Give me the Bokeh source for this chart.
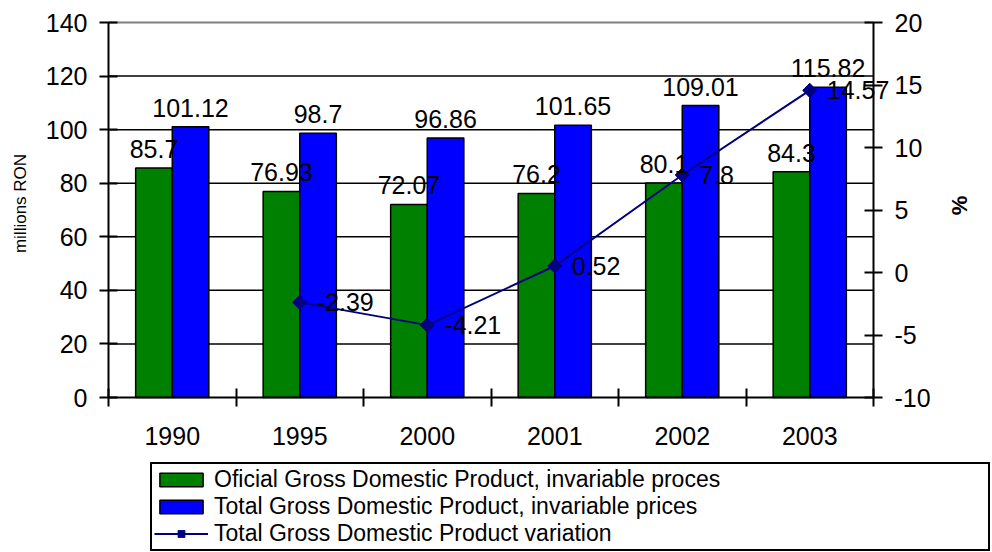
import numpy as np
from bokeh.plotting import figure
from bokeh.models import (Range1d, LinearAxis, FixedTicker, ColumnDataSource,
                          Legend, LegendItem, Label)
from bokeh.core.properties import value
from bokeh.embed import file_html
from bokeh.resources import INLINE

# ---------------- data ----------------
categories = ["1990", "1995", "2000", "2001", "2002", "2003"]
official_gdp = [85.7, 76.93, 72.07, 76.2, 80.1, 84.3]
total_gdp = [101.12, 98.7, 96.86, 101.65, 109.01, 115.82]
variation_years = ["1995", "2000", "2001", "2002", "2003"]
variation_pct = [-2.39, -4.21, 0.52, 7.8, 14.57]
left_ticks = [0, 20, 40, 60, 80, 100, 120, 140]
right_ticks = [-10, -5, 0, 5, 10, 15, 20]
left_title = "millions RON"
right_title = "%"
legend_labels = ["Oficial Gross Domestic Product, invariable proces",
                 "Total Gross Domestic Product, invariable prices",
                 "Total Gross Domestic Product variation"]

# ---------------- layout / styling ----------------
FONT = "Liberation Sans"
BAR_W = 0.287
OFF = 0.1435
GREEN = "#008000"
BLUE = "#0000FF"
NAVY = "#000080"
W, H = 992, 552
# plot area (pixels) inside a frame that covers the whole canvas
PL, PR, PT, PB = 108, 873, 22, 397

n = len(categories)
l0, l1 = left_ticks[0], left_ticks[-1]
r0, r1 = right_ticks[0], right_ticks[-1]
sx = (PR - PL) / n
sy = (PB - PT) / (l1 - l0)
sr = (PB - PT) / (r1 - r0)
x_range = Range1d(-PL / sx, n + (W - PR) / sx)
y_range = Range1d(l0 - (H - PB) / sy, l1 + PT / sy)
r_range = Range1d(r0 - (H - PB) / sr, r1 + PT / sr)

centers = [i + 0.5 for i in range(n)]
src_off = ColumnDataSource(dict(x=[c - OFF for c in centers], y=official_gdp,
                                lab=[str(v) for v in official_gdp]))
src_tot = ColumnDataSource(dict(x=[c + OFF for c in centers], y=total_gdp,
                                lab=[str(v) for v in total_gdp]))
var_x = [categories.index(yr) + 0.5 for yr in variation_years]
src_var = ColumnDataSource(dict(x=var_x, y=variation_pct,
                                lab=[str(v) for v in variation_pct]))
grid_y = left_ticks[1:]
src_grid = ColumnDataSource(dict(y=grid_y, x0=[0] * len(grid_y), x1=[n] * len(grid_y),
                                 c=["black"] * (len(grid_y) - 1) + ["#808080"],
                                 w=[1.5] * (len(grid_y) - 1) + [2]))

p = figure(width=W, height=H, output_backend="svg", toolbar_location=None,
           x_range=x_range, y_range=y_range, min_border=0)
p.extra_y_ranges = {"pct": r_range}
p.outline_line_color = None
p.background_fill_color = "white"
p.border_fill_color = "white"
p.xgrid.visible = False
p.ygrid.visible = False

# x axis: drawn at value 0, labels at centres, tick marks at category boundaries
xa = p.xaxis[0]
xa.fixed_location = l0
xa.bounds = (0, n)
xa.ticker = FixedTicker(ticks=centers, minor_ticks=list(range(n + 1)))
xa.major_label_overrides = {c: cat for c, cat in zip(centers, categories)}
xa.major_tick_in = 0
xa.major_tick_out = 0
xa.minor_tick_in = 9
xa.minor_tick_out = 9
xa.minor_tick_line_color = "black"
xa.minor_tick_line_width = 2
xa.axis_line_color = "black"
xa.axis_line_width = 2
xa.major_label_text_font = FONT
xa.major_label_text_font_size = "25px"
xa.major_label_text_color = "black"
xa.major_label_standoff = 20

ya = p.yaxis[0]
ya.fixed_location = 0
ya.bounds = (l0, l1)
ya.ticker = FixedTicker(ticks=left_ticks)
ya.major_tick_in = 9
ya.major_tick_out = 9
ya.major_tick_line_width = 2
ya.minor_tick_line_color = None
ya.axis_line_width = 2
ya.major_label_text_font = FONT
ya.major_label_text_font_size = "25px"
ya.major_label_text_color = "black"
ya.major_label_standoff = 12

ra = LinearAxis(y_range_name="pct", ticker=FixedTicker(ticks=right_ticks),
                bounds=(r0, r1), fixed_location=n)
ra.major_label_overrides = {t: str(t) for t in right_ticks}
ra.major_tick_in = 9
ra.major_tick_out = 9
ra.major_tick_line_width = 2
ra.minor_tick_line_color = None
ra.axis_line_width = 2
ra.major_label_text_font = FONT
ra.major_label_text_font_size = "25px"
ra.major_label_text_color = "black"
ra.major_label_standoff = 12
p.add_layout(ra, "right")

# axis titles
p.add_layout(Label(x=20, y=H - 203, x_units="screen", y_units="screen",
                   text=left_title, angle=np.pi / 2, text_align="center",
                   text_baseline="middle", text_font=FONT,
                   text_font_size="17px", text_color="black"))
p.add_layout(Label(x=959, y=H - 205, x_units="screen", y_units="screen",
                   text=right_title, angle=np.pi / 2, text_align="center",
                   text_baseline="middle", text_font=FONT,
                   text_font_size="22px", text_font_style="bold",
                   text_color="black"))

# horizontal grid lines (limited to the plot area)
p.segment(x0="x0", x1="x1", y0="y", y1="y", source=src_grid,
          line_color="c", line_width="w", level="underlay")

# bars
r_off = p.vbar(x="x", top="y", bottom=0, width=BAR_W, source=src_off,
               fill_color=GREEN, line_color="black", line_width=1.5)
r_tot = p.vbar(x="x", top="y", bottom=0, width=BAR_W, source=src_tot,
               fill_color=BLUE, line_color="black", line_width=1.5)

# line
r_line = p.line(x="x", y="y", source=src_var, y_range_name="pct",
                line_color=NAVY, line_width=2)
r_mark = p.scatter(x="x", y="y", source=src_var, y_range_name="pct",
                   marker="square", angle=np.pi / 4, size=10,
                   fill_color=NAVY, line_color=NAVY)

# labels
common = dict(text="lab", text_font=value(FONT), text_font_size="25px",
              text_color="black")
p.text(x="x", y="y", source=src_off, text_align="center",
       text_baseline="alphabetic", y_offset=-19, **common)
p.text(x="x", y="y", source=src_tot, text_align="center",
       text_baseline="alphabetic", y_offset=-19, **common)
p.text(x="x", y="y", source=src_var, y_range_name="pct", text_align="left",
       text_baseline="middle", x_offset=17, **common)

legend = Legend(items=[LegendItem(label=legend_labels[0], renderers=[r_off]),
                       LegendItem(label=legend_labels[1], renderers=[r_tot]),
                       LegendItem(label=legend_labels[2], renderers=[r_line, r_mark])],
                location=(150, 1), orientation="vertical",
                glyph_width=54, glyph_height=17, label_standoff=6,
                padding=2, spacing=0, label_width=772, label_height=20,
                label_text_font=FONT, label_text_font_size="23px",
                label_text_color="black",
                border_line_color="black", border_line_width=2,
                border_line_alpha=1.0,
                background_fill_color="white", background_fill_alpha=1.0,
                margin=0)
p.add_layout(legend)

open("out.html", "w").write(file_html(p, INLINE))
